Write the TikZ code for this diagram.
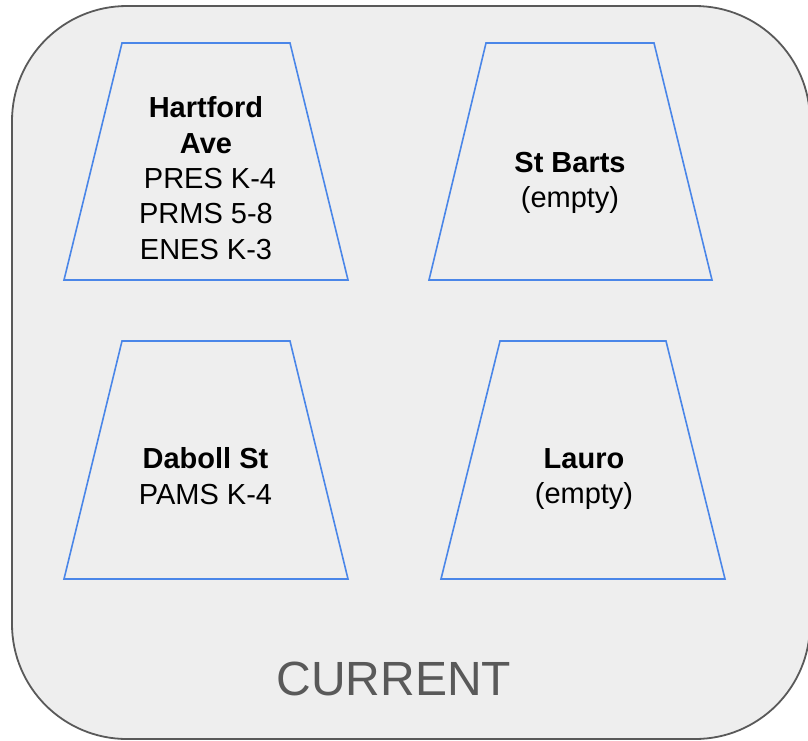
\documentclass[tikz,border=0pt]{standalone}
\usepackage{fontspec}
\setmainfont{Liberation Sans}
\begin{document}
\begin{tikzpicture}[x=1pt,y=-1pt,
  frame/.style={draw=framegray,line width=1.8pt,fill=panelgray,rounded corners=115pt},
  bay/.style={draw=bayblue,line width=1.6pt},
  label/.style={align=center,inner sep=0pt,font=\fontsize{29}{35.4}\selectfont},
  caption/.style={inner sep=0pt,anchor=base,text=framegray,font=\fontsize{48}{56}\selectfont}]
  \definecolor{framegray}{HTML}{595959}
  \definecolor{panelgray}{HTML}{EEEEEE}
  \definecolor{bayblue}{HTML}{4A86E8}
  \useasboundingbox (0,0) rectangle (808,740);

  % outer panel
  \draw[frame] (12,6) rectangle (810,739);

  % the four buildings
  \draw[bay] (122,43) -- (290,43) -- (348,280) -- (64,280) -- cycle;
  \draw[bay] (486,43) -- (654,43) -- (712,280) -- (429,280) -- cycle;
  \draw[bay] (122,341) -- (290,341) -- (348,579) -- (64,579) -- cycle;
  \draw[bay] (500,341) -- (666,341) -- (725,579) -- (441,579) -- cycle;

  % labels
  \node[label] (hartford) at (206,178.2)
    {\textbf{Hartford}\\\textbf{Ave}\\\hspace*{0.278em}PRES K-4\\PRMS 5-8\\ENES K-3};
  \node[label] (stbarts) at (570,183) {\textbf{St Barts}\\(empty)};
  \node[label] (daboll) at (205.5,476) {\textbf{Daboll St}\\PAMS K-4};
  \node[label] (lauro) at (584,479.3) {\textbf{Lauro}\\(empty)};

  \node[caption] (current) at (394,695) {CURRENT};
\end{tikzpicture}
\end{document}
